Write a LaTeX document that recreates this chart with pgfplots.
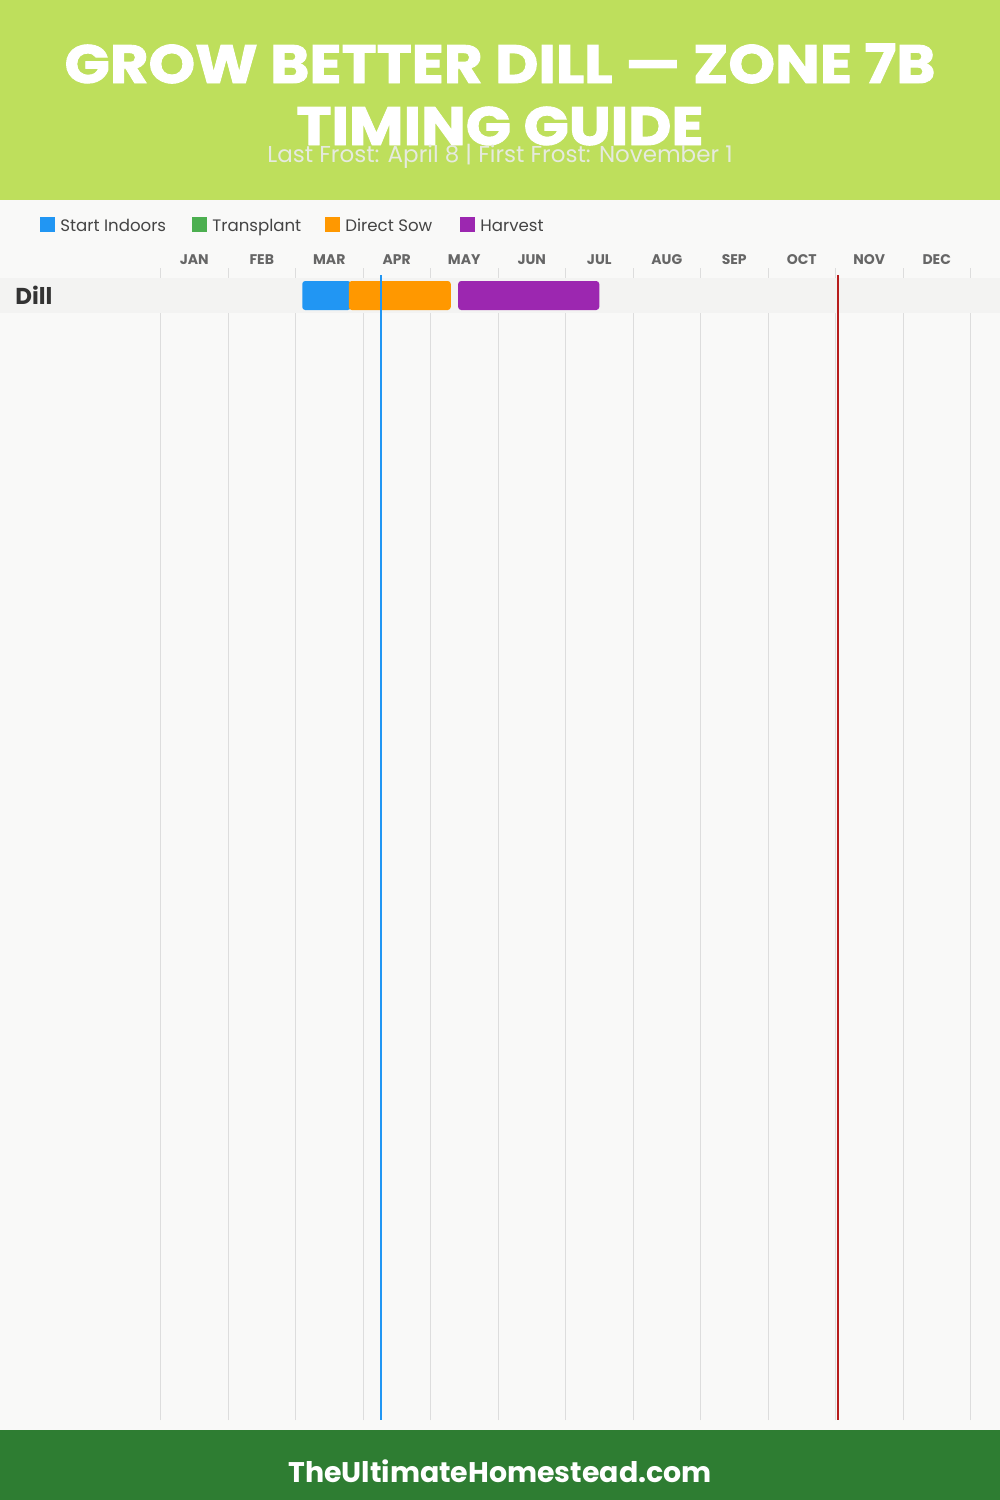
\documentclass[border=0pt]{standalone}
\usepackage{pgfplots}
\pgfplotsset{compat=1.18}
\usepackage{fontspec}
\setmainfont{Poppins}
\newfontfamily\titlefont{Poppins}[BoldFeatures={FakeBold=1.6}]
\definecolor{hdr}{HTML}{BEDF5C}
\definecolor{ftr}{HTML}{2E7D32}
\definecolor{bg}{HTML}{F9F9F8}
\definecolor{band}{HTML}{F3F3F2}
\definecolor{gridc}{HTML}{DDDDDD}
\definecolor{cIndoor}{HTML}{2196F3}
\definecolor{cTrans}{HTML}{4CAF50}
\definecolor{cSow}{HTML}{FF9800}
\definecolor{cHarv}{HTML}{9C27B0}
\definecolor{frostred}{HTML}{B71C1C}
\definecolor{subc}{HTML}{E6EADF}
\definecolor{legc}{HTML}{444444}
\definecolor{tickc}{HTML}{666666}
\definecolor{rowc}{HTML}{333333}
\begin{document}
\begin{tikzpicture}
\useasboundingbox (0,0) rectangle (500pt,-750pt);
\begin{scope}[x=0.5pt,y=-0.5pt]
\fill[bg] (0,0) rectangle (1000,1500);
\fill[hdr] (0,0) rectangle (1000,200);
\fill[ftr] (0,1430) rectangle (1000,1500);
\node[anchor=base, text=white, inner sep=0pt, font=\fontsize{27}{30}\titlefont\bfseries] at (500,83) {\scalebox{1.1}[1]{GROW BETTER DILL — ZONE 7B}};
\node[anchor=base, text=white, inner sep=0pt, font=\fontsize{27}{30}\titlefont\bfseries] at (500,145) {\scalebox{1.1}[1]{TIMING GUIDE}};
\node[anchor=base, text=subc, inner sep=0pt, font=\fontsize{11.5}{13}\selectfont] at (500,162) {Last Frost: April 8 | First Frost: November 1};
% legend
\fill[cIndoor] (40,217) rectangle (55,232);
\node[anchor=base west, inner sep=0pt, text=legc, font=\fontsize{8.3}{10}\selectfont] at (60,231) {Start Indoors};
\fill[cTrans] (192,217) rectangle (207,232);
\node[anchor=base west, inner sep=0pt, text=legc, font=\fontsize{8.3}{10}\selectfont] at (212,231) {Transplant};
\fill[cSow] (325,217) rectangle (340,232);
\node[anchor=base west, inner sep=0pt, text=legc, font=\fontsize{8.3}{10}\selectfont] at (345,231) {Direct Sow};
\fill[cHarv] (460,217) rectangle (475,232);
\node[anchor=base west, inner sep=0pt, text=legc, font=\fontsize{8.3}{10}\selectfont] at (480,231) {Harvest};
\node[anchor=base, text=white, inner sep=0pt, font=\fontsize{14.2}{17}\selectfont\bfseries] at (500,1482) {TheUltimateHomestead.com};
\end{scope}
\begin{axis}[
  at={(80.25pt,-134pt)}, anchor=north west,
  scale only axis, width=405pt, height=576pt,
  xmin=0, xmax=12, ymin=-1420, ymax=-268,
  axis line style={draw=none},
  clip=false,
  xtick={0.5,1.5,2.5,3.5,4.5,5.5,6.5,7.5,8.5,9.5,10.5,11.5},
  xticklabels={JAN,FEB,MAR,APR,MAY,JUN,JUL,AUG,SEP,OCT,NOV,DEC},
  xticklabel pos=right,
  xticklabel style={anchor=base, yshift=2pt, inner sep=0pt, font=\fontsize{7}{8}\selectfont\bfseries, text=tickc},
  major tick length=0pt, minor tick length=0pt,
  minor xtick={0,1,2,3,4,5,6,7,8,9,10,11,12},
  xminorgrids=true,
  minor grid style={gridc, line width=0.5pt},
  ytick=\empty,
]
% row band
\fill[band] (axis cs:-2.378,-278) rectangle (axis cs:12.438,-313);
\node[anchor=base west, inner sep=0pt, text=rowc, font=\fontsize{11.5}{13}\selectfont\bfseries] at (axis cs:-2.156,-304) {Dill};
% Start Indoors
\addplot[fill=cIndoor, draw=none, rounded corners=1.5pt] coordinates {(2.1,-281) (2.82,-281) (2.82,-310) (2.1,-310)} -- cycle;
% Direct Sow
\addplot[fill=cSow, draw=none, rounded corners=1.5pt] coordinates {(2.79,-281) (4.3,-281) (4.3,-310) (2.79,-310)} -- cycle;
% Harvest
\addplot[fill=cHarv, draw=none, rounded corners=1.5pt] coordinates {(4.41,-281) (6.5,-281) (6.5,-310) (4.41,-310)} -- cycle;
% frost lines
\addplot[cIndoor, line width=1pt] coordinates {(3.267,-275) (3.267,-1420)};
\addplot[frostred, line width=1pt] coordinates {(10.033,-275) (10.033,-1420)};
\end{axis}
\end{tikzpicture}
\end{document}
